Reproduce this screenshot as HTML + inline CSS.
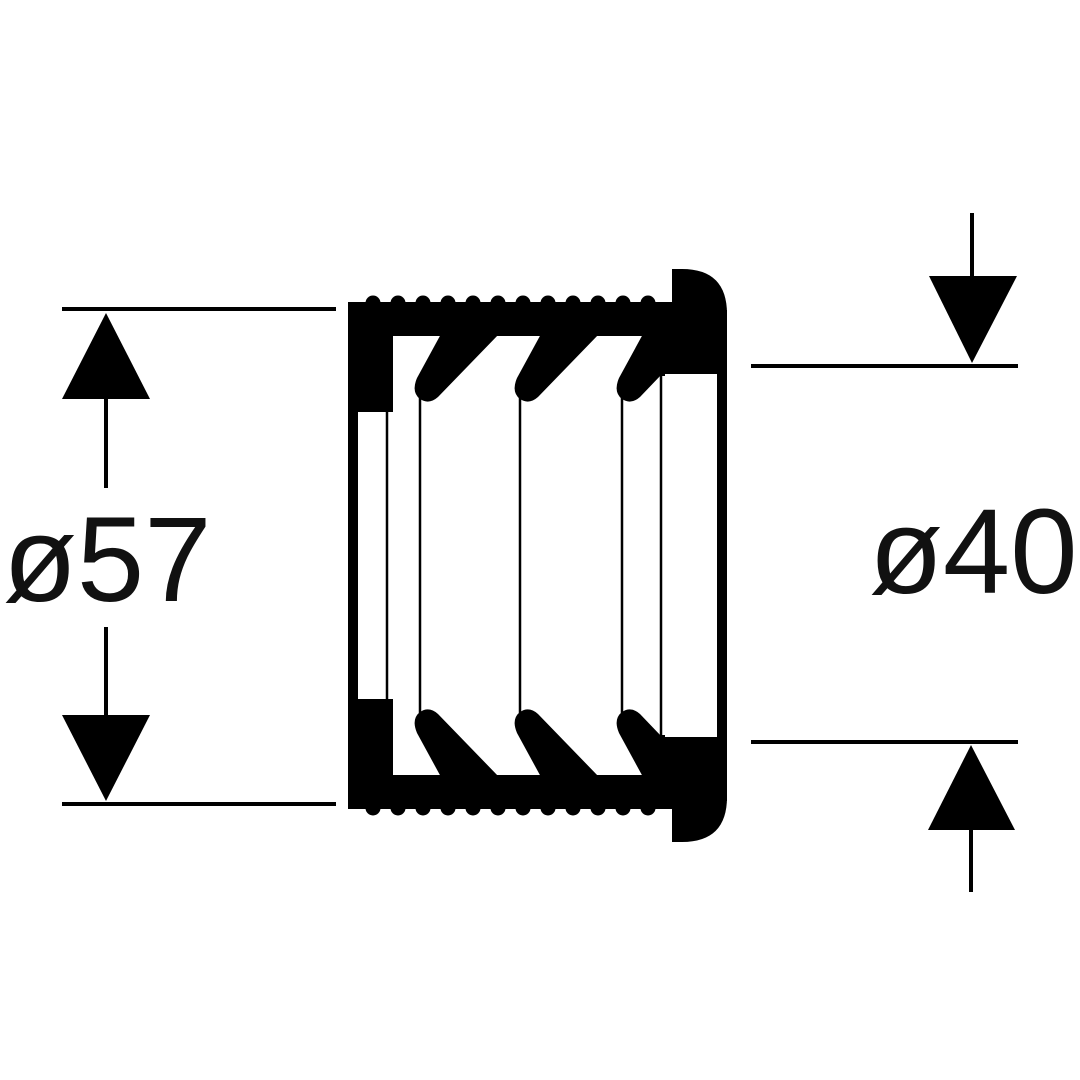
<!DOCTYPE html>
<html><head><style>
html,body{margin:0;padding:0;background:#fff;}
svg{display:block}
text{font-family:"Liberation Sans",sans-serif;fill:#111;}
</style></head><body>
<svg width="1080" height="1080" viewBox="0 0 1080 1080" xmlns="http://www.w3.org/2000/svg">
<rect width="1080" height="1080" fill="#fff"/>
<defs>
<g id="half">
  <path d="M348,302 H672 V269 H682 Q727,269 727,314 V374 H717 V374 H662 V374 L645,374 L643,336 H393 V412 H358 V556 H348 Z" fill="#000"/>
  <g fill="#000">
    <circle cx="373" cy="303" r="7.5"/><circle cx="398" cy="303" r="7.5"/><circle cx="423" cy="303" r="7.5"/>
    <circle cx="448" cy="303" r="7.5"/><circle cx="473" cy="303" r="7.5"/><circle cx="498" cy="303" r="7.5"/>
    <circle cx="523" cy="303" r="7.5"/><circle cx="548" cy="303" r="7.5"/><circle cx="573" cy="303" r="7.5"/>
    <circle cx="598" cy="303" r="7.5"/><circle cx="623" cy="303" r="7.5"/><circle cx="648" cy="303" r="7.5"/>
  </g>
  <path d="M441,334 L417,378 Q411,392 420,399 Q429,405 438,397 L499,334 Z" fill="#000"/>
  <path d="M541,334 L517,378 Q511,392 520,399 Q529,405 538,397 L599,334 Z" fill="#000"/>
  <path d="M643,334 L619,378 Q613,392 622,399 Q631,405 640,397 L662,374 L662,334 Z" fill="#000"/>
  <rect x="717" y="310" width="10" height="250" fill="#000"/>
  <rect x="645" y="334" width="20" height="42" fill="#000"/>
</g>
</defs>
<use href="#half"/>
<use href="#half" transform="translate(0,1111) scale(1,-1)"/>
<g stroke="#000" stroke-width="2.5">
  <line x1="387" y1="412" x2="387" y2="700"/>
  <line x1="420" y1="395" x2="420" y2="716"/>
  <line x1="520" y1="395" x2="520" y2="716"/>
  <line x1="622" y1="395" x2="622" y2="716"/>
  <line x1="661" y1="374" x2="661" y2="737"/>
</g>
<g stroke="#000" stroke-width="4">
  <line x1="62" y1="309" x2="336" y2="309"/>
  <line x1="62" y1="804" x2="336" y2="804"/>
  <line x1="106" y1="398" x2="106" y2="488"/>
  <line x1="106" y1="627" x2="106" y2="716"/>
  <line x1="751" y1="366" x2="1018" y2="366"/>
  <line x1="751" y1="742" x2="1018" y2="742"/>
  <line x1="972" y1="213" x2="972" y2="278"/>
  <line x1="971" y1="828" x2="971" y2="892"/>
</g>
<g fill="#000">
  <polygon points="106,313 62,399 150,399"/>
  <polygon points="106,801 62,715 150,715"/>
  <polygon points="972,363 929,276 1017,276"/>
  <polygon points="971,745 928,830 1015,830"/>
</g>
<text x="3" y="601" font-size="121">ø57</text>
<text x="869" y="593" font-size="121">ø40</text>
</svg>
</body></html>
